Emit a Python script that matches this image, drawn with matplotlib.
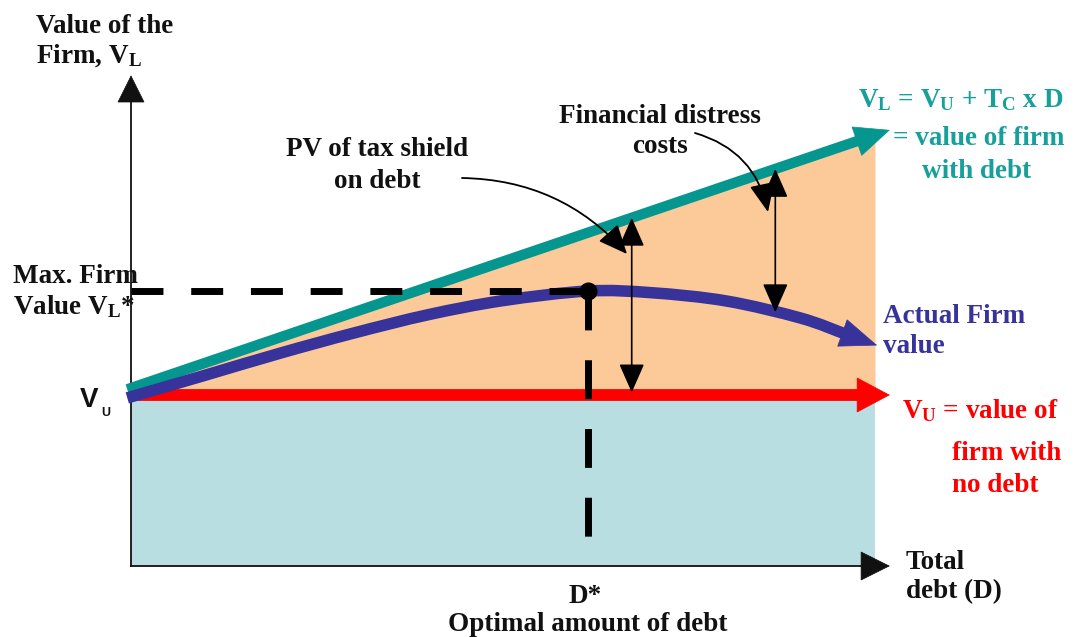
import matplotlib
matplotlib.use('Agg')
import matplotlib.pyplot as plt
from matplotlib.path import Path
from matplotlib.patches import PathPatch
import numpy as np

plt.rcParams['mathtext.fontset'] = 'custom'
plt.rcParams['mathtext.rm'] = 'Liberation Serif:bold'
plt.rcParams['mathtext.bf'] = 'Liberation Serif:bold'
plt.rcParams['mathtext.it'] = 'Liberation Serif:bold'

# ---------------- data (schematic values) ----------------
debt_fill_end = 10.0           # shaded region ends here
debt_axis_end = 10.2           # x-axis arrow tip
value_axis_top = 287           # y-axis arrow tip
V_U = 100                      # value of unlevered firm
VL_debt = [0.0, 10.2]          # V_L = V_U + Tc x D line
VL_value = [104.0, 255.0]
actual_debt = [0.0, 1.0, 2.0, 3.0, 4.0, 5.0, 6.14, 7.0, 8.0, 9.0, 10.03]
actual_value = [98.8, 111.6, 124.4, 136.3, 147.0, 155.2, 160.8, 159.8, 155.0, 145.0, 129.0]
D_star = 6.14
V_star = 160.8
tax_shield_D = 6.73
distress_D = 8.66

# ---------------- styling ----------------
W, H = 1074, 637
BLACK = '#111111'
TEAL = '#05968F'
TEAL_TXT = '#17A09A'
PURPLE = '#37339A'
RED = '#FF0000'
PEACH = '#FCCA98'
LBLUE = '#B8DEE1'

fig = plt.figure(figsize=(W / 100, H / 100), dpi=100)
ax = fig.add_axes([0, 0, 1, 1])
# pixel mapping: origin at (131, 566), 74.4 px per debt unit, 1.71 px per value unit
ax.set_xlim(-131 / 74.4, (W - 131) / 74.4)
ax.set_ylim(-(H - 566) / 1.71, 566 / 1.71)
ax.axis('off')

PX = 72 / 100  # mutation scale -> pixels


def head(tail, tip, color, length, half_width, zorder):
    """Draw a filled arrow head of given pixel size ending at tip; return base point (data)."""
    t = ax.transData
    p0 = t.transform(tail)
    p1 = t.transform(tip)
    d = (p1 - p0) / np.hypot(*(p1 - p0))
    base = t.inverted().transform(p1 - d * length)
    ax.annotate('', xy=tip, xytext=base,
                arrowprops=dict(arrowstyle=f'-|>,head_length={length},head_width={half_width}',
                                mutation_scale=PX, color=color, lw=0.5,
                                shrinkA=0, shrinkB=0, joinstyle='miter'),
                zorder=zorder)
    return base


def smooth_path(xs, ys):
    """Catmull-Rom curve through the given points, as cubic Bezier path."""
    P = np.column_stack([xs, ys]).astype(float)
    n = len(P)
    verts = [P[0]]
    codes = [Path.MOVETO]
    for i in range(n - 1):
        p0 = P[i - 1] if i > 0 else P[i]
        p3 = P[i + 2] if i + 2 < n else P[i + 1]
        c1 = P[i] + (P[i + 1] - p0) / 6
        c2 = P[i + 1] - (p3 - P[i]) / 6
        verts += [c1, c2, P[i + 1]]
        codes += [Path.CURVE4] * 3
    return Path(verts, codes)


# shaded regions
fd = np.array([0.0, debt_fill_end])
ax.fill_between(fd, 0, V_U, color=LBLUE, lw=0, zorder=1)
ax.fill_between(fd, V_U, np.interp(fd, VL_debt, VL_value), color=PEACH, lw=0, zorder=1)

# axes
b = head((0, 0), (0, value_axis_top), BLACK, 26, 13, 3)
ax.plot([0, 0], [0, b[1]], color=BLACK, lw=1.3, zorder=3)
b = head((0, 0), (debt_axis_end, 0), BLACK, 28, 14, 3)
ax.plot([0, b[0]], [0, 0], color=BLACK, lw=1.3, zorder=3)

# red V_U line
b = head((0, V_U), (debt_axis_end, V_U), RED, 32, 17, 4)
ax.plot([0, b[0]], [V_U, V_U], color=RED, lw=8.5, solid_capstyle='butt', zorder=4)

# teal V_L line
b = head((VL_debt[0], VL_value[0]), (VL_debt[1], VL_value[1]), TEAL, 34, 15, 5)
ax.plot([VL_debt[0] - 0.05, b[0]], [VL_value[0] - 0.7, b[1]], color=TEAL, lw=7.5,
        solid_capstyle='butt', zorder=5)

# actual firm value (smooth curve through the points)
b = head((actual_debt[-2], actual_value[-2]), (actual_debt[-1], actual_value[-1]), PURPLE, 36, 14, 6)
cx = [actual_debt[0] - 0.05] + actual_debt[1:-1] + [b[0]]
cy = [actual_value[0] - 0.5] + actual_value[1:-1] + [b[1]]
ax.add_patch(PathPatch(smooth_path(cx, cy), facecolor='none', edgecolor=PURPLE, lw=8.3,
                       capstyle='butt', joinstyle='round', zorder=6))

# dashed optimum lines
ax.plot([0, D_star], [V_star, V_star], color='black', lw=5, ls=(0, (4.6, 4.0)),
        dash_capstyle='butt', zorder=7)
ax.plot([D_star, D_star], [V_star, 0], color='black', lw=5, ls=(0, (5.6, 4.3)),
        dash_capstyle='butt', zorder=7)
ax.plot([D_star], [V_star], 'o', color='black', ms=12, zorder=8)

# double-headed arrows
vl_ts = np.interp(tax_shield_D, VL_debt, VL_value)
ax.annotate('', xy=(tax_shield_D, vl_ts), xytext=(tax_shield_D, V_U + 1.5),
            arrowprops=dict(arrowstyle='<|-|>,head_length=25,head_width=11', mutation_scale=PX,
                            color='black', lw=1.2, shrinkA=0, shrinkB=0), zorder=9)
vl_fd = np.interp(distress_D, VL_debt, VL_value)
act_fd = np.interp(distress_D, actual_debt, actual_value)
ax.annotate('', xy=(distress_D, vl_fd), xytext=(distress_D, act_fd),
            arrowprops=dict(arrowstyle='<|-|>,head_length=25,head_width=11', mutation_scale=PX,
                            color='black', lw=1.2, shrinkA=0, shrinkB=0), zorder=9)


def P(x, y):
    return (x / W, 1 - y / H)


# curved callout arrows (figure pixel positions)
ax.annotate('', xy=P(627, 254), xytext=P(462, 178), xycoords='figure fraction',
            textcoords='figure fraction',
            arrowprops=dict(arrowstyle='-|>,head_length=25,head_width=11', mutation_scale=PX,
                            color='black', lw=1.3, shrinkA=0, shrinkB=0,
                            connectionstyle='arc3,rad=-0.22'), zorder=9)
ax.annotate('', xy=P(768, 212), xytext=P(695, 133), xycoords='figure fraction',
            textcoords='figure fraction',
            arrowprops=dict(arrowstyle='-|>,head_length=25,head_width=11', mutation_scale=PX,
                            color='black', lw=1.3, shrinkA=0, shrinkB=0,
                            connectionstyle='arc3,rad=-0.3'), zorder=9)


def txt(x, y, s, color=BLACK, size=19.5, ha='left', family='Liberation Serif'):
    fig.text(x / W, 1 - y / H, s, ha=ha, va='baseline', color=color, fontsize=size,
             fontweight='bold', family=family, zorder=10)


txt(36, 33, 'Value of the')
txt(36, 63, r'Firm, $\mathbf{V_L}$')
txt(13, 283, 'Max. Firm')
txt(13, 314, r'Value $\mathbf{V_L}$*')
txt(80, 407, 'V', size=20, family='Liberation Sans')
txt(101, 416, 'U', size=9, family='Liberation Sans')
txt(660, 123, 'Financial distress', ha='center')
txt(660, 153, 'costs', ha='center')
txt(377, 156, 'PV of tax shield', ha='center')
txt(377, 188, 'on debt', ha='center')
txt(858, 107, r'$\mathbf{V_L}$ = $\mathbf{V_U}$ + $\mathbf{T_C}$ x D', color=TEAL_TXT)
txt(893, 145, '= value of firm', color=TEAL_TXT)
txt(922, 178, 'with debt', color=TEAL_TXT)
txt(883, 323, 'Actual Firm', color=PURPLE)
txt(883, 353, 'value', color=PURPLE)
txt(902, 418, r'$\mathbf{V_U}$ = value of', color=RED)
txt(952, 460, 'firm with', color=RED)
txt(952, 492, 'no debt', color=RED)
txt(585, 603, 'D*', ha='center')
txt(588, 631, 'Optimal amount of debt', ha='center')
txt(906, 569, 'Total')
txt(906, 598, 'debt (D)')

fig.savefig('out.png', dpi=100)
